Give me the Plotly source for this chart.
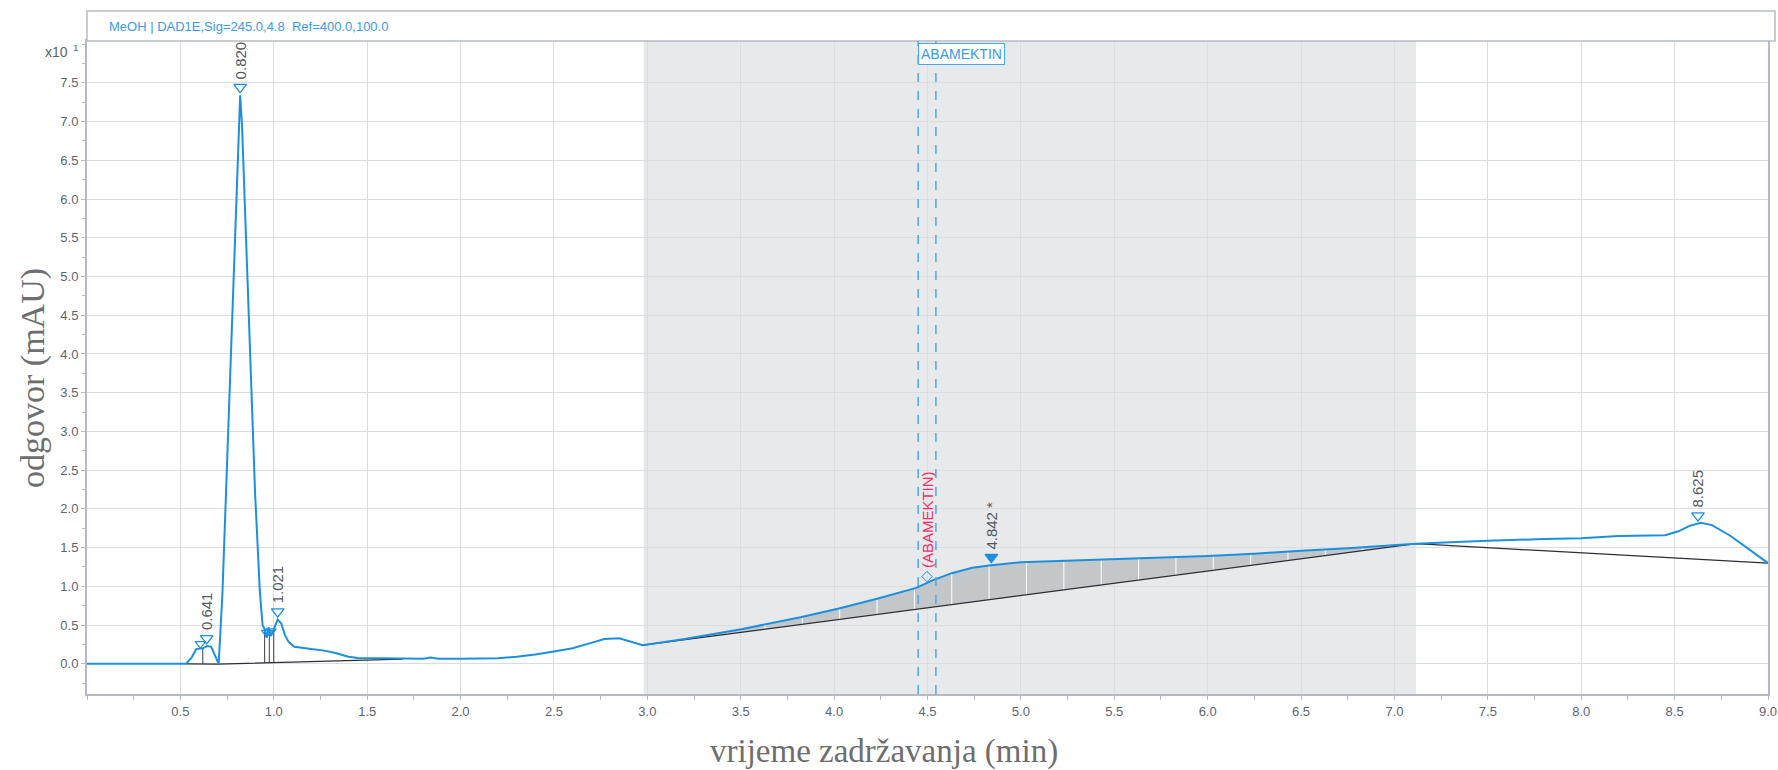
import numpy as np
import plotly.graph_objects as go

# ---- chromatogram (DAD1E, 245 nm), response in x10 mAU ----
time_min = [0.0, 0.53, 0.56, 0.585, 0.62, 0.645, 0.665, 0.69, 0.705,
            0.725, 0.75, 0.772, 0.795, 0.81, 0.82, 0.83, 0.85, 0.875, 0.90, 0.925,
            0.94, 0.95, 0.962, 0.972, 0.985, 0.995, 1.021, 1.04, 1.06, 1.08, 1.11,
            1.2, 1.27, 1.33, 1.4, 1.45, 1.55, 1.7, 1.8, 1.84, 1.88, 2.0, 2.2, 2.3,
            2.4, 2.5, 2.6, 2.7, 2.77, 2.85, 2.9, 2.94, 2.975, 3.2, 3.51, 3.82, 4.02,
            4.23, 4.44, 4.53, 4.63, 4.74, 4.83, 5.0, 5.25, 5.5, 5.75, 6.0, 6.25, 6.5,
            6.75, 7.0, 7.115, 7.3, 7.5, 7.8, 8.0, 8.2, 8.45, 8.52, 8.58, 8.64, 8.7,
            8.8, 8.9, 9.0]
signal = [0.0, 0.0, 0.08, 0.19, 0.20, 0.23, 0.22, 0.08, 0.0,
          0.9, 2.6, 4.0, 5.8, 6.8, 7.34, 6.95, 5.6, 3.7, 2.2, 0.95,
          0.50, 0.45, 0.34, 0.47, 0.36, 0.42, 0.57, 0.52, 0.37, 0.28, 0.22,
          0.19, 0.17, 0.14, 0.09, 0.075, 0.07, 0.065, 0.065, 0.08, 0.065, 0.065, 0.07, 0.09,
          0.12, 0.16, 0.20, 0.27, 0.32, 0.33, 0.29, 0.26, 0.24, 0.32, 0.45, 0.60, 0.71,
          0.84, 0.98, 1.08, 1.17, 1.24, 1.27, 1.31, 1.33, 1.35, 1.37, 1.39, 1.42, 1.46,
          1.49, 1.53, 1.55, 1.57, 1.59, 1.61, 1.62, 1.65, 1.66, 1.71, 1.78, 1.82, 1.79,
          1.65, 1.48, 1.30]

# integration baselines
base_early_t = [0.53, 0.705, 1.69]
base_early_y = [0.0, -0.005, 0.06]
base_main_t = [2.975, 7.115, 9.0]
base_main_y = [0.24, 1.55, 1.30]

# drop lines between early peaks and slice lines in the integrated area
drop_t = [0.62, 0.951, 0.976, 1.0]
slice_t = [3.03, 3.23, 3.43, 3.63, 3.83, 4.03, 4.23, 4.43, 4.63, 4.83, 5.03, 5.23,
           5.43, 5.63, 5.83, 6.03, 6.23, 6.43, 6.63, 6.83, 7.03]

# labelled peaks
peak_rt = [0.641, 0.820, 1.021, 4.842, 8.625]
peak_text = ["0.641", "0.820", "1.021", "4.842 *", "8.625"]
peak_filled = [False, False, False, True, False]
minor_peak_rt = [0.607, 0.962, 0.985]

# compound window
integration_region = [2.98, 7.115]
window_rt = [4.45, 4.545]
compound = "ABAMEKTIN"

x_ticks = [0.5, 1.0, 1.5, 2.0, 2.5, 3.0, 3.5, 4.0, 4.5, 5.0, 5.5, 6.0, 6.5, 7.0, 7.5,
           8.0, 8.5, 9.0]
y_ticks = [0.0, 0.5, 1.0, 1.5, 2.0, 2.5, 3.0, 3.5, 4.0, 4.5, 5.0, 5.5, 6.0, 6.5, 7.0, 7.5]

X_RANGE = [0.0, 9.0]
Y_RANGE = [-0.39, 8.04]

W, H = 1778, 770
ML, MR, MT, MB = 87, 10, 41, 76
PW, PH = W - ML - MR, H - MT - MB

BLUE = "#1c90de"
LBL = "#555a60"
TICK = "#5e6472"
AXIS = "#b6b9c4"
GRID = "#dcdde0"
SANS = "Liberation Sans, Arial"
SERIF = "Liberation Serif, Times New Roman, serif"


def px_x(px):
    return (px - ML) / PW


def px_y(py):
    return (H - MB - py) / PH


t = np.asarray(time_min)
s = np.asarray(signal)

fig = go.Figure()

# filled integrated area between signal and baseline
lo, hi = base_main_t[0], base_main_t[1]
inside = (t > lo) & (t < hi)
ft = np.concatenate([[lo], t[inside], [hi]])
fs = np.interp(ft, t, s)
fb = np.interp(ft, base_main_t, base_main_y)
fig.add_trace(go.Scatter(
    x=np.concatenate([ft, ft[::-1]]), y=np.concatenate([fs, fb[::-1]]),
    fill="toself", fillcolor="#c4c7ca", line=dict(width=0), mode="lines",
    hoverinfo="skip", showlegend=False))

# white slice lines inside the integrated area
sx, sy = [], []
for xv in slice_t:
    sx += [xv, xv, None]
    sy += [float(np.interp(xv, base_main_t, base_main_y)), float(np.interp(xv, t, s)), None]
fig.add_trace(go.Scatter(x=sx, y=sy, mode="lines", line=dict(color="white", width=1),
                         hoverinfo="skip", showlegend=False))

# drop lines
dx, dy = [], []
for xv in drop_t:
    dx += [xv, xv, None]
    dy += [float(np.interp(xv, base_early_t, base_early_y)), float(np.interp(xv, t, s)), None]
fig.add_trace(go.Scatter(x=dx, y=dy, mode="lines", line=dict(color="#3c3f44", width=1),
                         hoverinfo="skip", showlegend=False))

# baselines
for bt, by in ((base_early_t, base_early_y), (base_main_t, base_main_y)):
    fig.add_trace(go.Scatter(x=bt, y=by, mode="lines", line=dict(color="#2b2e33", width=1.2),
                             hoverinfo="skip", showlegend=False))

# signal
fig.add_trace(go.Scatter(x=time_min, y=signal, mode="lines",
                         line=dict(color=BLUE, width=2), showlegend=False))

# peak markers
off = 8 / PH * (Y_RANGE[1] - Y_RANGE[0])
pk_y = [float(np.interp(r, t, s)) + off for r in peak_rt]
fig.add_trace(go.Scatter(
    x=peak_rt, y=pk_y, mode="markers", showlegend=False,
    marker=dict(symbol=["triangle-down" if f else "triangle-down-open" for f in peak_filled],
                size=11, color=BLUE, line=dict(color=BLUE, width=1.3))))
mk_y = [float(np.interp(r, t, s)) + off * 0.6 for r in minor_peak_rt]
fig.add_trace(go.Scatter(x=minor_peak_rt, y=mk_y, mode="markers", showlegend=False,
                         marker=dict(symbol="triangle-down-open", size=9, color=BLUE,
                                     line=dict(color=BLUE, width=1.2))))

# expected retention time marker
exp_rt = (window_rt[0] + window_rt[1]) / 2
exp_y = float(np.interp(exp_rt, t, s)) + off * 0.8
fig.add_trace(go.Scatter(x=[exp_rt], y=[exp_y], mode="markers", showlegend=False,
                         marker=dict(symbol="diamond-open", size=8, color=BLUE,
                                     line=dict(color=BLUE, width=1))))

annotations = []
for r, y, txt in zip(peak_rt, pk_y, peak_text):
    annotations.append(dict(x=r, y=y, xref="x", yref="y", text=txt, showarrow=False,
                            textangle=-90, xanchor="center", yanchor="bottom", yshift=6,
                            font=dict(family=SANS, size=15, color=LBL)))

annotations.append(dict(x=exp_rt, y=exp_y, xref="x", yref="y", text="(" + compound + ")",
                        showarrow=False, textangle=-90, xanchor="center", yanchor="bottom",
                        yshift=6, font=dict(family=SANS, size=15, color="#f0306e")))

annotations.append(dict(x=window_rt[0], y=1, xref="x", yref="paper", text=compound,
                        showarrow=False, xanchor="left", yanchor="top", yshift=-2,
                        bgcolor="white", bordercolor="#47a6ee", borderwidth=1, borderpad=2,
                        font=dict(family=SANS, size=14, color="#3a9be6")))

# header
annotations.append(dict(x=px_x(107), y=px_y(26), xref="paper", yref="paper",
                        text="MeOH | DAD1E,Sig=245.0,4.8  Ref=400.0,100.0", showarrow=False,
                        xanchor="left", yanchor="middle",
                        font=dict(family=SANS, size=13, color="#3a9be6")))

# exponent label
annotations.append(dict(x=px_x(80), y=px_y(51), xref="paper", yref="paper",
                        text="x10<sup>  1</sup>", showarrow=False, xanchor="right",
                        yanchor="middle", font=dict(family=SANS, size=14, color=TICK)))

# axis titles
annotations.append(dict(x=px_x(884), y=px_y(751), xref="paper", yref="paper",
                        text="vrijeme zadržavanja (min)", showarrow=False,
                        xanchor="center", yanchor="middle",
                        font=dict(family=SERIF, size=33, color="#6e6e6e")))
annotations.append(dict(x=px_x(33), y=px_y(378), xref="paper", yref="paper",
                        text="odgovor (mAU)", showarrow=False, textangle=-90,
                        xanchor="center", yanchor="middle",
                        font=dict(family=SERIF, size=34, color="#6e6e6e")))

shapes = [
    dict(type="rect", xref="x", yref="paper", x0=integration_region[0],
         x1=integration_region[1], y0=0, y1=1, fillcolor="#e8e9eb", line=dict(width=0),
         layer="below"),
    dict(type="rect", xref="paper", yref="paper", x0=0, x1=px_x(1775), y0=1,
         y1=px_y(11), fillcolor="white", line=dict(color="#b9bcc6", width=1.5)),
]
for wr in window_rt:
    shapes.append(dict(type="line", xref="x", yref="paper", x0=wr, x1=wr, y0=0, y1=1,
                       line=dict(color="#4aa8f0", width=1.5, dash="dash")))

axis_font = dict(family=SANS, size=13, color=TICK)
fig.update_layout(
    width=W, height=H, margin=dict(l=ML, r=MR, t=MT, b=MB, autoexpand=False),
    plot_bgcolor="white", paper_bgcolor="white",
    annotations=annotations, shapes=shapes,
    xaxis=dict(range=X_RANGE, tickvals=x_ticks, ticktext=[f"{v:.1f}" for v in x_ticks],
               showgrid=True, gridcolor=GRID, gridwidth=1, zeroline=False,
               showline=True, linecolor=AXIS, linewidth=2, mirror=True,
               ticks="outside", ticklen=4, tickcolor=AXIS, tickfont=axis_font,
               minor=dict(dtick=0.25, tick0=0, ticks="outside", ticklen=4, tickcolor=AXIS,
                          showgrid=False)),
    yaxis=dict(range=Y_RANGE, tickvals=y_ticks, ticktext=[f"{v:.1f}" for v in y_ticks],
               showgrid=True, gridcolor=GRID, gridwidth=1, zeroline=False,
               showline=True, linecolor=AXIS, linewidth=2, mirror=True,
               ticks="outside", ticklen=4, tickcolor=AXIS, tickfont=axis_font,
               minor=dict(dtick=0.25, tick0=0, ticks="outside", ticklen=3, tickcolor=AXIS,
                          showgrid=False)),
)

fig.write_html("out.html")
